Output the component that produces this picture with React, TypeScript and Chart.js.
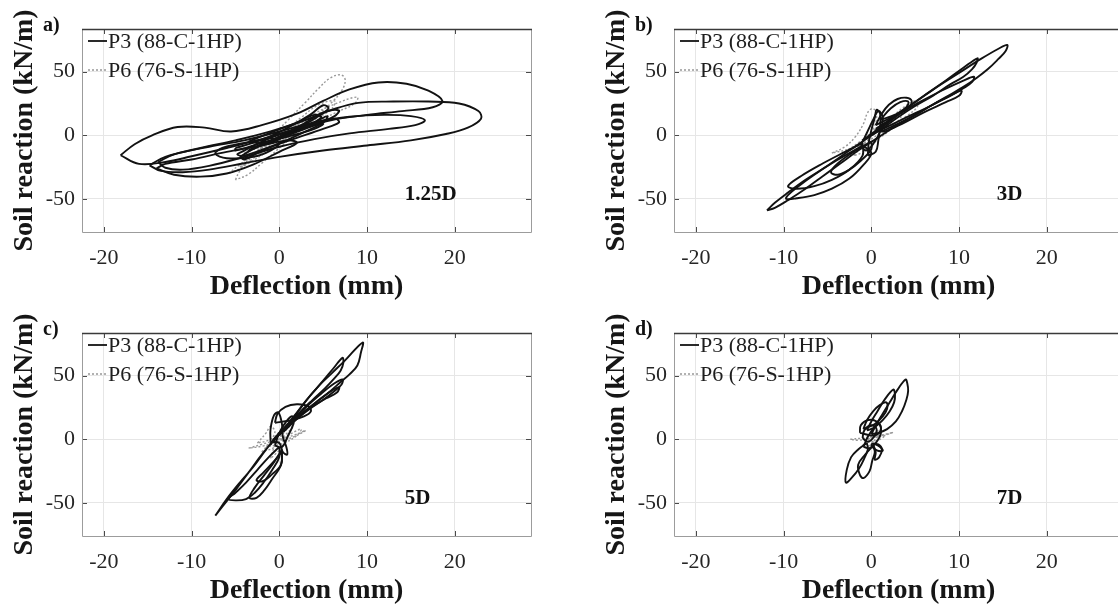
import React, { useEffect, useRef } from 'react';
import { Chart, registerables } from 'chart.js';

Chart.register(...registerables);

type Pt = [number, number];

// ---------- axes / labels ----------
const X_TICKS = [-20, -10, 0, 10, 20];
const Y_TICKS = [-50, 0, 50];
const X_RANGE: Pt = [-22.5, 28.7];
const Y_RANGE: Pt = [-76, 83.5];
const SERIES_NAMES = ['P3 (88-C-1HP)', 'P6 (76-S-1HP)'];
const PANEL_LETTERS = ['a)', 'b)', 'c)', 'd)'];
const PANEL_DEPTHS = ['1.25D', '3D', '5D', '7D'];
const X_TITLE = 'Deflection (mm)';
const Y_TITLE = 'Soil reaction (kN/m)';
const DEPTH_LABEL_POS: Pt = [14.3, -51];

// ---------- panel a (1.25D) : P3 loops ----------
const a_p3_1: Pt[] = [[-14.8, -23.6], [-13, -17], [-9, -10], [-5, -4], [-1, 3], [3, 12], [6, 20], [9, 25.5], [13, 26.5], [17, 26.5], [20.5, 25], [22.7, 19], [23, 13], [21.5, 6], [19, 1], [15, -4], [10, -8], [5, -12], [0, -17], [-4, -22], [-8, -27], [-11, -29], [-13.5, -28], [-14.8, -23.6]];
const a_p3_2: Pt[] = [[-18.1, -15.7], [-16.5, -7], [-14.5, 0], [-11.6, 6.5], [-8.5, 6], [-5.5, 3], [-2, 8], [2, 17], [5, 27], [8, 36], [11.3, 41.5], [14.5, 40.5], [17, 35], [18.6, 27], [17.5, 22], [14, 19], [10, 16], [6, 12], [2, 5], [-2, -3], [-6, -10], [-10, -16.5], [-13, -21], [-16, -22.5], [-18.1, -15.7]];
const a_p3_3: Pt[] = [[-13.8, -21], [-12, -15], [-8, -9], [-4, -4], [0, 3], [4, 10], [8, 14.5], [12, 16], [15, 15], [16.6, 11.8], [15.5, 8], [12.5, 5], [8, 1.5], [4, -3], [0, -9], [-4, -17], [-8, -24], [-11, -27], [-13, -25.5], [-13.8, -21]];
const a_p3_4: Pt[] = [[-14, -26], [-12, -31], [-9, -32.5], [-6, -30], [-3, -23], [0, -13], [2, -6], [1, -4], [-2, -8], [-6, -13], [-10, -19], [-13, -22.5], [-14, -26]];
const a_p3_5: Pt[] = [[-1, -2], [-4, -6], [-6.5, -10], [-7.3, -14.5], [-6, -18], [-3, -17], [-1, -12], [0, -6], [-1, -2]];
const a_p3_6: Pt[] = [[-4, -12], [-2, -5], [1, 3], [4, 10], [6.4, 13], [6.8, 10], [5, 5], [2, -2], [-1, -9], [-4, -16], [-4.8, -15], [-4, -12]];
const a_p3_7: Pt[] = [[-3, -10], [0, -1], [3, 10], [5, 18], [6.8, 19.6], [6.3, 15], [4, 8], [1, 0], [-2, -8], [-3.5, -12], [-3, -10]];
const a_p3_8: Pt[] = [[-2, -4], [1, 6], [3.5, 16], [5, 23.6], [5.6, 21], [4, 13], [1.5, 3], [-1, -6], [-2, -4]];
const a_p3_9: Pt[] = [[-5, -10], [-3, -6], [0, 1], [3, 6], [5, 9], [4, 5], [1, -1], [-2, -6], [-5, -12], [-5, -10]];
const a_p3_10: Pt[] = [[-4.5, -17], [-2.5, -9], [0, -2], [2.5, 5], [4.5, 12], [5.5, 15], [5, 10], [3, 3], [0.5, -5], [-2, -12], [-4, -19], [-4.5, -17]];
const a_p3_11: Pt[] = [[-3.5, -5], [-1, 2], [2, 10], [4, 16], [4.8, 14], [3, 7], [0.5, 0], [-2, -6], [-3.5, -5]];
// panel a : P6 loops
const a_p6_1: Pt[] = [[-5, -35], [-4.5, -28], [-3, -16], [-1, -2], [1, 12], [3, 26], [4.5, 37], [5.8, 45], [7, 47.5], [7.5, 44], [7.2, 36], [6, 26], [4, 14], [2, 2], [0, -10], [-2, -22], [-3.6, -31], [-5, -35]];
const a_p6_2: Pt[] = [[-5.8, -30], [-4.5, -23], [-2, -10], [1, 4], [4, 17], [6.5, 25], [8.9, 30], [8.6, 25], [6.5, 18], [3.5, 8], [0.5, -4], [-2.5, -16], [-4.5, -26], [-5.8, -30]];
const a_p6_3: Pt[] = [[-4.5, -25], [-2.5, -13], [0, 0], [2.5, 14], [4.5, 24], [6.3, 27], [6, 21], [4, 12], [1.5, 1], [-1, -11], [-3.5, -22], [-4.5, -25]];
const a_p6_4: Pt[] = [[-3.5, -18], [-1.5, -8], [1, 4], [3.5, 14], [5, 18], [4.5, 13], [2, 3], [-0.5, -7], [-3, -17], [-3.5, -18]];
const a_p6_5: Pt[] = [[-2.5, -12], [-0.5, -3], [1.5, 6], [3, 11], [2.5, 6], [0.5, -2], [-1.5, -9], [-2.5, -12]];
const a_p6_6: Pt[] = [[-4, -14], [-2, -8], [0, -1], [2, 6], [4, 12], [3, 7], [1, 1], [-1, -6], [-4, -14]];

// ---------- panel b (3D) ----------
const b_p3_1: Pt[] = [[-11.9, -59], [-11, -53], [-9.5, -45], [-7.5, -35], [-5, -24], [-2.5, -12], [0, 0], [2.5, 13], [5, 26], [7.5, 38], [10, 49], [12.5, 60], [14.5, 68], [15.5, 71], [15.3, 66], [14.5, 60], [13.3, 52], [12, 45], [10.5, 38], [8.5, 30], [6.5, 22], [4.5, 14], [2.5, 6], [0.5, -3], [-1.5, -12], [-3.5, -22], [-5.5, -32], [-7.5, -42], [-9.5, -51], [-11, -57], [-11.9, -59]];
const b_p3_2: Pt[] = [[-1, -4], [1, 6], [3.5, 19], [6, 31], [8.5, 43], [10.5, 53], [12.1, 60.5], [12, 57], [11.5, 52], [10.5, 46], [9, 40], [7, 31], [5, 23], [3, 14], [1, 4], [-1, -4]];
const b_p3_3: Pt[] = [[0.5, 5], [3, 16], [5.5, 26], [8, 35], [10.5, 43], [11.7, 46], [11.5, 42], [10.5, 37], [9, 31], [7, 24], [5, 16], [3, 9], [1, 3], [0.5, 5]];
const b_p3_4: Pt[] = [[1, 4], [4, 14], [7, 24], [9.5, 33], [10.3, 35], [10, 31], [8.5, 26], [6, 18], [3.5, 9], [1.5, 3], [1, 4]];
const b_p3_5: Pt[] = [[-1, -8], [-2.5, -14], [-4.5, -22], [-6.5, -31], [-8.3, -40], [-9.5, -47], [-9.7, -50], [-8.5, -49.5], [-6.5, -47], [-4.5, -42], [-2.5, -34], [-1, -24], [0, -14], [-1, -8]];
const b_p3_6: Pt[] = [[-1, -6], [-3, -13], [-5.5, -22], [-8, -32], [-9.5, -40], [-8.5, -42], [-6.5, -40], [-4.5, -35], [-2.5, -27], [-1, -16], [-1, -6]];
const b_p3_7: Pt[] = [[0, -5], [-2, -13], [-3.8, -22], [-4.6, -29], [-3.8, -31], [-2.5, -27], [-1.2, -20], [0, -11], [0, -5]];
const b_p3_8: Pt[] = [[0.5, 8], [1.2, 17], [2, 24], [3, 28.5], [4, 29.5], [4.6, 27], [4.3, 22], [3.2, 17], [2, 13], [0.5, 8]];
const b_p3_9: Pt[] = [[1, 12], [2.2, 21], [3.3, 26], [4.2, 26.5], [4, 22], [2.8, 16.5], [1, 12]];
const b_p3_10: Pt[] = [[-0.4, -16], [-0.3, -6], [0, 4], [0.4, 14], [0.6, 20], [1, 17], [1, 7], [0.8, -4], [0.5, -13], [-0.4, -16]];
const b_p3_11: Pt[] = [[-1.2, -8], [-0.5, 2], [0.2, 12], [0.8, 19], [1.3, 14], [1, 3], [0.2, -7], [-0.6, -12], [-1.2, -8]];
const b_p6_1: Pt[] = [[-4.5, -14], [-3, -9], [-1.8, -1], [-0.9, 9], [-0.4, 18], [0.2, 21], [0.6, 16], [0.3, 6], [-0.6, -3], [-2.2, -10], [-4.5, -14]];
const b_p6_2: Pt[] = [[-3, -13], [-1.3, -5], [0.5, 5], [2, 12], [3.5, 17], [3, 11], [1.5, 4], [-0.5, -5], [-3, -13]];
const b_p6_3: Pt[] = [[-1.5, -9], [0, 0], [1.5, 8], [2.5, 10], [2.1, 4], [0.6, -3], [-1.5, -9]];
const b_p6_4: Pt[] = [[0.5, 3], [2, 12], [3.5, 21], [5, 27], [5.3, 23], [4, 15], [2, 7], [0.5, 3]];
const b_p6_5: Pt[] = [[-2, -16], [-1, -8], [0.5, 2], [1.5, 7], [1.2, 1], [0, -8], [-1.2, -14], [-2, -16]];

// ---------- panel c (5D) ----------
const c_p3_1: Pt[] = [[-7.3, -60], [-6, -47], [-4.5, -34], [-3, -22], [-1.5, -8], [0, 5], [1.5, 16], [3, 30], [4.5, 42], [6, 52], [7.5, 62], [9.5, 76], [9.3, 68], [8.9, 58], [8, 51], [7, 45], [5.5, 36], [4, 28], [2.5, 20], [1, 11], [-0.5, 0], [-2, -12], [-3.5, -26], [-5, -40], [-6.5, -53], [-7.3, -60]];
const c_p3_2: Pt[] = [[-1, -4], [0.5, 8], [2, 21], [3.5, 34], [5, 46], [6.2, 56], [7.2, 64], [7.3, 60], [7, 54], [6.3, 48], [5.2, 40], [3.8, 31], [2.3, 21], [0.8, 10], [-0.5, 1], [-1, -4]];
const c_p3_3: Pt[] = [[0, 3], [1.5, 14], [3, 25], [4.8, 36], [6.3, 44], [7.2, 47], [7.1, 43], [6.3, 38], [5, 31], [3.5, 24], [2, 16], [0.5, 7], [0, 3]];
const c_p3_4: Pt[] = [[0.5, 6], [2, 16], [3.8, 27], [5.5, 36], [6.8, 41], [6.6, 37], [5.3, 32], [3.6, 25], [2, 17], [0.5, 6]];
const c_p3_5: Pt[] = [[-0.5, 13], [-0.2, 20], [0.7, 25.5], [2, 27.5], [3.3, 26], [3.6, 22], [2.8, 18], [1.4, 15], [-0.5, 13]];
const c_p3_6: Pt[] = [[0, -6], [-1.2, -14], [-2.5, -24], [-3.8, -34], [-5, -42], [-5.8, -47], [-5, -48], [-3.8, -47], [-2.8, -42], [-1.8, -34], [-0.8, -24], [0, -14], [0, -6]];
const c_p3_7: Pt[] = [[0.3, -8], [-0.6, -18], [-1.7, -28], [-2.8, -38], [-3.4, -46], [-2.6, -46], [-1.7, -40], [-0.8, -31], [0.2, -20], [0.3, -8]];
const c_p3_8: Pt[] = [[0.3, -10], [-0.7, -18], [-1.8, -26], [-2.6, -32], [-1.9, -33], [-0.9, -28], [0.2, -20], [0.3, -10]];
const c_p3_9: Pt[] = [[-1, -2], [-1, 8], [-0.6, 19], [-0.1, 21], [0.3, 12], [0.4, 2], [0.8, -6], [0.9, -12], [0.4, -10], [0, -3], [-1, -2]];
const c_p3_10: Pt[] = [[-0.5, -5], [0, 5], [0.8, 14], [1.5, 18], [1.6, 12], [1, 3], [0.3, -6], [-0.5, -5]];
const c_p6_1: Pt[] = [[-3.5, -7], [-2, -4], [0, 0], [2, 4], [3, 7], [2, 3], [0, -2], [-2, -5.5], [-3.5, -7]];
const c_p6_2: Pt[] = [[-2, -10], [-1, -2], [0, 6], [1, 14], [1.8, 18], [1.5, 10], [0.5, 2], [-0.5, -6], [-2, -10]];
const c_p6_3: Pt[] = [[-1, -15], [-0.5, -5], [0.5, 5], [1.5, 12], [1.2, 5], [0.5, -5], [-0.5, -12], [-1, -15]];
const c_p6_4: Pt[] = [[-2.5, -3], [-1.5, 5], [-1, 10], [-0.5, 6], [-1, 0], [-2.5, -3]];
const c_p6_5: Pt[] = [[-1.5, -6], [0, -1], [1.5, 5], [2.5, 8], [2, 3], [0.5, -3], [-1.5, -6]];

// ---------- panel d (7D) ----------
const d_p3_1: Pt[] = [[0, 4], [0.6, 12], [1.3, 20], [2.1, 29], [3, 39], [3.9, 47], [4.1, 44], [4.2, 38], [4, 31], [3.5, 22], [2.8, 14], [1.8, 8], [0.8, 5], [0, 4]];
const d_p3_2: Pt[] = [[-0.5, 7], [0, 14], [0.7, 22], [1.5, 31], [2.5, 39], [2.7, 35], [2.6, 29], [2.1, 22], [1.3, 15], [0.3, 9], [-0.5, 7]];
const d_p3_3: Pt[] = [[-0.9, 8], [-0.5, 15], [0.2, 22], [1, 27], [1.7, 29], [1.8, 24], [1.3, 18], [0.4, 12], [-0.9, 8]];
const d_p3_4: Pt[] = [[-0.5, -3], [-1.5, -8], [-2.3, -14], [-2.8, -24], [-2.9, -34], [-2.2, -30], [-1.4, -23], [-0.8, -15], [-0.4, -8], [-0.5, -3]];
const d_p3_5: Pt[] = [[0.2, -5], [-0.7, -12], [-1.5, -20], [-1.3, -28], [-0.9, -30.5], [-0.2, -25], [0.1, -17], [0.4, -10], [0.2, -5]];
const d_p3_6: Pt[] = [[0.2, -4], [0.5, -10], [0.4, -16], [0.9, -14], [1.2, -8], [0.8, -4], [0.2, -4]];
const d_p3_7: Pt[] = [[-1.3, 5], [-1.2, 11], [-0.4, 15], [0.6, 14], [1.1, 8], [0.4, 3], [-1.3, 5]];
const d_p3_8: Pt[] = [[-0.9, -6], [-0.4, 2], [0.3, 9], [0.9, 12], [1.1, 5], [0.6, -2], [-0.2, -7], [-0.9, -6]];
const d_p3_9: Pt[] = [[0.2, -3], [1, -6], [1.3, -9], [0.7, -9], [0, -5], [0.2, -3]];
const d_p3_10: Pt[] = [[-1, 1], [-0.8, 7], [0, 11], [0.6, 8], [0.3, 2], [-0.4, -2], [-1, 1]];
const d_p6_1: Pt[] = [[-2.4, 0], [-1.2, 0.8], [0.5, 2.5], [2, 4.5], [2.5, 5.5], [1.5, 3], [0, 1], [-1.5, -0.8], [-2.4, 0]];
const d_p6_2: Pt[] = [[-1, -5], [-0.3, 0], [0.5, 5], [1, 8], [0.8, 3], [0.2, -2], [-0.5, -6], [-1, -5]];
const d_p6_3: Pt[] = [[-0.5, -2], [0.5, 2], [1.5, 3], [1, 0], [0, -2], [-0.5, -2]];

const PANEL_P3: Pt[][][] = [
  [a_p3_1, a_p3_2, a_p3_3, a_p3_4, a_p3_5, a_p3_6, a_p3_7, a_p3_8, a_p3_9, a_p3_10, a_p3_11],
  [b_p3_1, b_p3_2, b_p3_3, b_p3_4, b_p3_5, b_p3_6, b_p3_7, b_p3_8, b_p3_9, b_p3_10, b_p3_11],
  [c_p3_1, c_p3_2, c_p3_3, c_p3_4, c_p3_5, c_p3_6, c_p3_7, c_p3_8, c_p3_9, c_p3_10],
  [d_p3_1, d_p3_2, d_p3_3, d_p3_4, d_p3_5, d_p3_6, d_p3_7, d_p3_8, d_p3_9, d_p3_10],
];
const PANEL_P6: Pt[][][] = [
  [a_p6_1, a_p6_2, a_p6_3, a_p6_4, a_p6_5, a_p6_6],
  [b_p6_1, b_p6_2, b_p6_3, b_p6_4, b_p6_5],
  [c_p6_1, c_p6_2, c_p6_3, c_p6_4, c_p6_5],
  [d_p6_1, d_p6_2, d_p6_3],
];

// ---------- styling ----------
const SERIF = "'Liberation Serif', 'Times New Roman', 'DejaVu Serif', serif";
const P3_COLOR = '#121212';
const P6_COLOR = '#989898';
const P6_DASH = [2, 2];
const CANVAS_W = 558;
const CANVAS_H = 304;
const PANEL_POS: Pt[] = [[0, 0], [592, 0], [0, 304], [592, 304]];

const decorPlugin = {
  id: 'decor',
  afterDraw(chart: any, _args: any, opts: any) {
    const { ctx, chartArea: ca, scales } = chart;
    const xs = scales.x;
    const ys = scales.y;
    ctx.save();
    // inward tick marks
    ctx.strokeStyle = '#4a4a4a';
    ctx.lineWidth = 1;
    ctx.beginPath();
    X_TICKS.forEach((v) => {
      const px = Math.round(xs.getPixelForValue(v)) + 0.5;
      ctx.moveTo(px, ca.bottom);
      ctx.lineTo(px, ca.bottom - 5);
      ctx.moveTo(px, ca.top);
      ctx.lineTo(px, ca.top + 5);
    });
    Y_TICKS.forEach((v) => {
      const py = Math.round(ys.getPixelForValue(v)) + 0.5;
      ctx.moveTo(ca.left, py);
      ctx.lineTo(ca.left + 5, py);
      ctx.moveTo(ca.right, py);
      ctx.lineTo(ca.right - 5, py);
    });
    ctx.stroke();
    // box
    ctx.strokeStyle = '#9c9c9c';
    ctx.lineWidth = 1;
    ctx.beginPath();
    ctx.moveTo(ca.left + 0.5, ca.top);
    ctx.lineTo(ca.left + 0.5, ca.bottom + 0.5);
    ctx.lineTo(ca.right + 0.5, ca.bottom + 0.5);
    ctx.lineTo(ca.right + 0.5, ca.top);
    ctx.stroke();
    ctx.strokeStyle = '#3a3a3a';
    ctx.lineWidth = 1.6;
    ctx.beginPath();
    ctx.moveTo(ca.left, ca.top + 0.5);
    ctx.lineTo(ca.right + 1, ca.top + 0.5);
    ctx.stroke();

    // legend
    const rows = [
      { name: SERIES_NAMES[0], color: P3_COLOR, dash: [] as number[], w: 1.8 },
      { name: SERIES_NAMES[1], color: P6_COLOR, dash: P6_DASH, w: 1.4 },
    ];
    rows.forEach((r, i) => {
      const cy = ca.top + 12 + i * 29;
      ctx.strokeStyle = r.color;
      ctx.lineWidth = r.w;
      ctx.setLineDash(r.dash);
      ctx.beginPath();
      ctx.moveTo(ca.left + 6, cy);
      ctx.lineTo(ca.left + 25, cy);
      ctx.stroke();
      ctx.setLineDash([]);
      ctx.fillStyle = '#1e1e1e';
      ctx.font = `22px ${SERIF}`;
      ctx.textAlign = 'left';
      ctx.textBaseline = 'middle';
      ctx.fillText(r.name, ca.left + 26, cy + 1);
    });

    // panel letter
    ctx.fillStyle = '#111';
    ctx.font = `bold 20px ${SERIF}`;
    ctx.textAlign = 'left';
    ctx.textBaseline = 'alphabetic';
    ctx.fillText(opts.letter, ca.left - 39, 31);

    // depth label
    ctx.font = `bold 21px ${SERIF}`;
    ctx.fillText(opts.depth, xs.getPixelForValue(DEPTH_LABEL_POS[0]), ys.getPixelForValue(DEPTH_LABEL_POS[1]));
    ctx.restore();
  },
};

function loopDataset(loop: Pt[], color: string, width: number, dash: number[]) {
  return {
    data: loop.map(([x, y]) => ({ x, y })),
    showLine: true,
    borderColor: color,
    backgroundColor: color,
    borderWidth: width,
    borderDash: dash,
    pointRadius: 0,
    pointHoverRadius: 0,
    fill: false,
    tension: 0.38,
  };
}

function Panel({ idx }: { idx: number }) {
  const ref = useRef<HTMLCanvasElement>(null);
  useEffect(() => {
    if (!ref.current) return;
    const datasets = [
      ...PANEL_P3[idx].map((l) => loopDataset(l, P3_COLOR, 1.9, [])),
      ...PANEL_P6[idx].map((l) => loopDataset(l, P6_COLOR, 1.4, P6_DASH)),
    ];
    const chart = new Chart(ref.current, {
      type: 'scatter',
      data: { datasets } as any,
      options: {
        animation: false,
        responsive: false,
        maintainAspectRatio: false,
        events: [],
        layout: { padding: { top: 29, right: 27, left: 0, bottom: 0 } },
        plugins: {
          legend: { display: false },
          tooltip: { enabled: false },
          decor: { letter: PANEL_LETTERS[idx], depth: PANEL_DEPTHS[idx] },
        } as any,
        scales: {
          x: {
            type: 'linear',
            min: X_RANGE[0],
            max: X_RANGE[1],
            afterBuildTicks: (s: any) => {
              s.ticks = X_TICKS.map((v) => ({ value: v }));
            },
            afterFit: (s: any) => {
              s.height = 72;
            },
            grid: { color: '#e6e6e6', drawTicks: false, lineWidth: 1 },
            border: { display: false },
            ticks: {
              font: { family: SERIF, size: 22 },
              color: '#262626',
              padding: 13,
              maxRotation: 0,
            },
            title: {
              display: true,
              text: X_TITLE,
              font: { family: SERIF, size: 28, weight: 'bold' },
              color: '#161616',
              padding: { top: 0, bottom: 0 },
            },
          },
          y: {
            type: 'linear',
            min: Y_RANGE[0],
            max: Y_RANGE[1],
            afterBuildTicks: (s: any) => {
              s.ticks = Y_TICKS.map((v) => ({ value: v }));
            },
            afterFit: (s: any) => {
              s.width = 82;
            },
            grid: { color: '#e6e6e6', drawTicks: false, lineWidth: 1 },
            border: { display: false },
            ticks: {
              font: { family: SERIF, size: 22 },
              color: '#262626',
              padding: 7,
            },
            title: {
              display: true,
              text: Y_TITLE,
              font: { family: SERIF, size: 28, weight: 'bold' },
              color: '#161616',
              padding: { top: 8, bottom: 0 },
            },
          },
        },
      } as any,
      plugins: [decorPlugin],
    });
    return () => chart.destroy();
  }, [idx]);
  const [left, top] = PANEL_POS[idx];
  return (
    <canvas
      ref={ref}
      width={CANVAS_W}
      height={CANVAS_H}
      style={{ position: 'absolute', left, top, width: CANVAS_W, height: CANVAS_H }}
    />
  );
}

export default function App() {
  return (
    <div
      style={{
        position: 'fixed',
        left: 0,
        top: 0,
        width: 1118,
        height: 608,
        overflow: 'hidden',
        background: '#ffffff',
      }}
    >
      {[0, 1, 2, 3].map((i) => (
        <Panel key={i} idx={i} />
      ))}
    </div>
  );
}
